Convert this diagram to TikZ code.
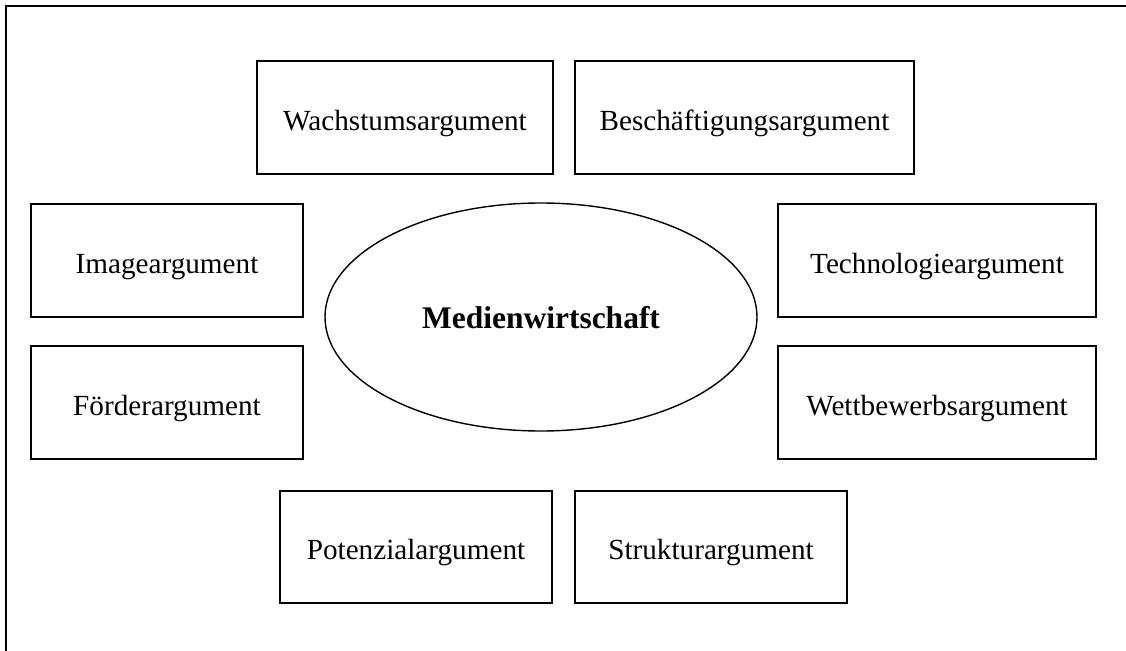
\documentclass[tikz,border=0pt]{standalone}
\usepackage{fontspec}
\setmainfont{Liberation Serif}
\usetikzlibrary{shapes.geometric}
\tikzset{
  argbox/.style={draw=black, line width=2pt, rectangle, minimum height=113pt, inner sep=0pt,
    text height=25pt, text depth=0pt, font=\fontsize{29.2}{34}\selectfont},
  centre/.style={draw=black, line width=1.4pt, ellipse, minimum width=432pt, minimum height=228pt, inner sep=0pt,
    text height=22pt, text depth=0pt, font=\fontsize{31.5}{36}\selectfont\bfseries},
  frame/.style={draw=black, line width=2pt}
}
\begin{document}
\begin{tikzpicture}[x=1pt,y=-1pt]
\useasboundingbox (0,0) rectangle (1126,650);
\clip (0,0) rectangle (1126,650);
\draw[frame] (6,6) rectangle (1160,680);
\node[argbox, minimum width=296pt] (wachstum) at (405,117.5) {Wachstumsargument};
\node[argbox, minimum width=339pt] (beschaeftigung) at (744.5,117.5) {Beschäftigungsargument};
\node[argbox, minimum width=272pt] (image) at (167,260.5) {Imageargument};
\node[argbox, minimum width=272pt] (foerder) at (167,402.5) {Förderargument};
\node[argbox, minimum width=318pt] (technologie) at (937,260.5) {Technologieargument};
\node[argbox, minimum width=318pt] (wettbewerb) at (937,402.5) {Wettbewerbsargument};
\node[argbox, minimum width=272pt, minimum height=112pt] (potenzial) at (416,547) {Potenzialargument};
\node[argbox, minimum width=272pt, minimum height=112pt] (struktur) at (711,547) {Strukturargument};
\node[centre] (medien) at (541,317) {Medienwirtschaft};
\end{tikzpicture}
\end{document}
